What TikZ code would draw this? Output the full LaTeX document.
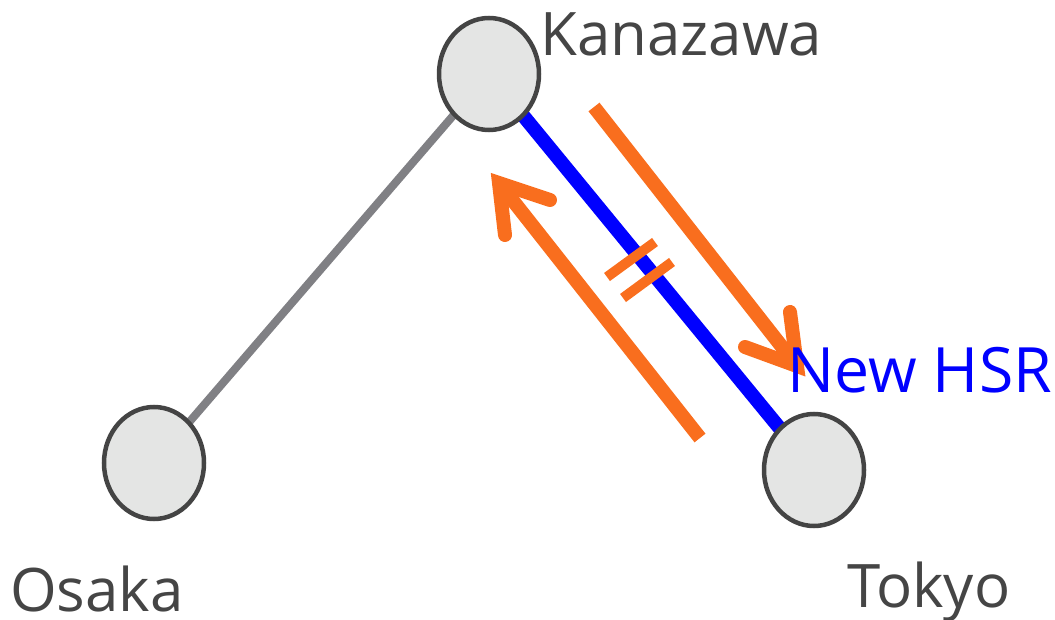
\documentclass[tikz,border=0pt]{standalone}
\usepackage{fontspec}
\setmainfont{Open Sans}
\usetikzlibrary{shapes.geometric}
\definecolor{nodefill}{HTML}{E4E5E4}
\definecolor{nodeedge}{HTML}{444444}
\definecolor{txt}{HTML}{454545}
\definecolor{oldline}{HTML}{808084}
\definecolor{hsr}{HTML}{0000FF}
\definecolor{flow}{HTML}{F96E1E}
\begin{document}
\begin{tikzpicture}[x=1pt,y=-1pt,
  station/.style={ellipse, draw=nodeedge, fill=nodefill, line width=4.5pt,
    minimum width=100pt, minimum height=112pt, inner sep=0pt},
  label/.style={anchor=base west, text=txt, font=\fontsize{60}{72}\selectfont, inner sep=0pt},
  flowshaft/.style={draw=flow, line width=14pt},
  flowhead/.style={draw=flow, line width=14pt, line cap=round, line join=miter},
  cut/.style={draw=flow, line width=10pt}]
\useasboundingbox (0,0) rectangle (1055,620);
% track lines (drawn first so stations sit on top)
\coordinate (osk) at (154,463);
\coordinate (knz) at (489,74);
\coordinate (tky) at (814,470);
\draw[oldline, line width=8pt] (osk) -- (knz);
\draw[hsr, line width=14pt] (knz) -- (tky);
% stations
\node[station] (osaka) at (osk) {};
\node[station] (kanazawa) at (knz) {};
\node[station] (tokyo) at (tky) {};
% outbound flow arrow
\coordinate (outA) at (594,107);
\coordinate (outB) at (797,366);
\draw[flowshaft] (outA) -- (outB);
\draw[flowhead] (790,312) -- (outB) -- (745,347);
% return flow arrow
\coordinate (inA) at (700,438);
\coordinate (inB) at (499,183);
\draw[flowshaft] (inA) -- (inB);
\draw[flowhead] (505,235) -- (inB) -- (550,200);
% break marks across the new line
\draw[cut] (607,277) -- (655,242);
\draw[cut] (623,298) -- (672,262);
% names, on top of everything
\node[label] (kanazawaname) at (540,56) {Kanazawa};
\node[label] (osakaname) at (10,611) {Osaka};
\node[label] (tokyoname) at (847,607) {Tokyo};
\node[label, text=hsr, font=\fontsize{62.5}{72}\selectfont] (hsrname) at (787,392) {New HSR};
\end{tikzpicture}
\end{document}
